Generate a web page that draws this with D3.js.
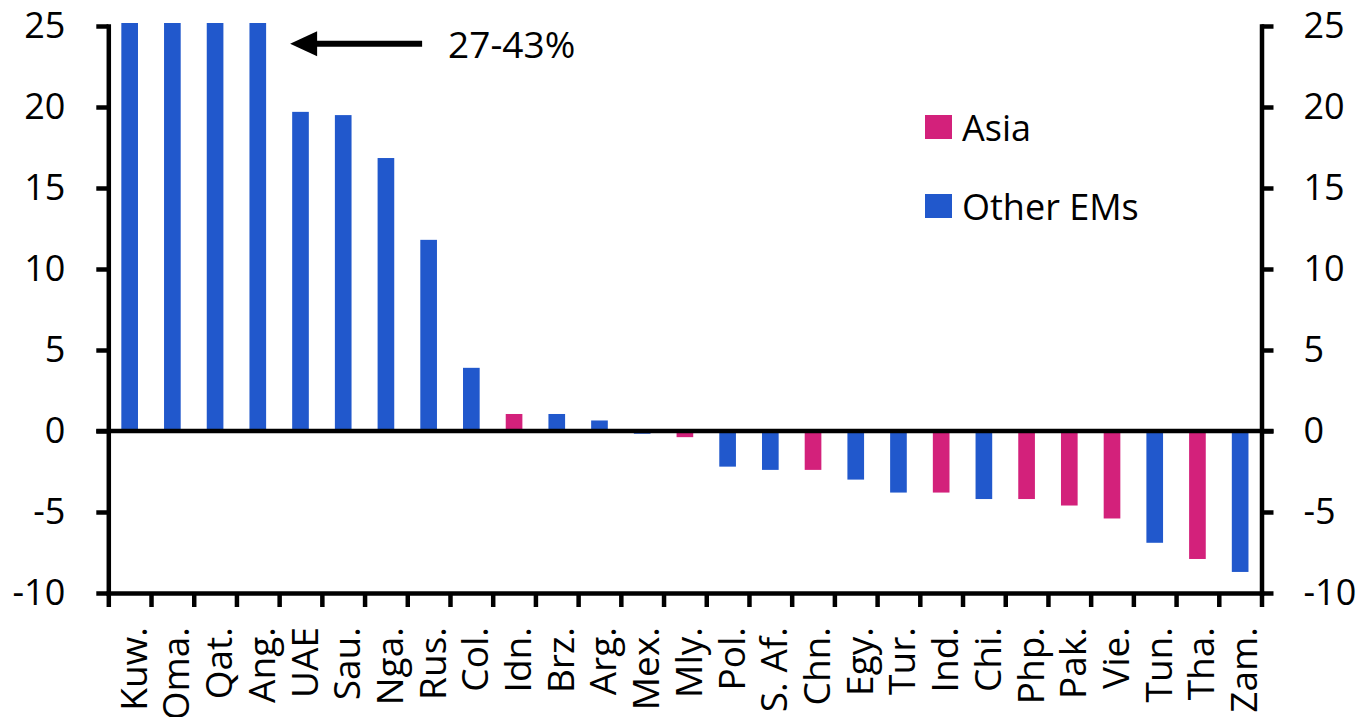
<!DOCTYPE html>
<html>
<head>
  <meta charset="utf-8">
  <title>EM bars</title>
  <script src="https://cdnjs.cloudflare.com/ajax/libs/d3/7.8.5/d3.min.js"></script>
  <style>
    body { margin: 0; background: #fff; }
    text { font-family: "Open Sans", sans-serif; fill: #000; }
    .axis path, .axis line { stroke: #000; stroke-width: 4.5px; }
    .axis path { stroke-linecap: square; }
  </style>
</head>
<body>
  <div id="chart"></div>
  <script>
    // data (values above 25 are capped, see the 27-43% note)
    var categories = ["Kuw.", "Oma.", "Qat.", "Ang.", "UAE", "Sau.", "Nga.", "Rus.", "Col.", "Idn.", "Brz.", "Arg.", "Mex.", "Mly.",
      "Pol.", "S. Af.", "Chn.", "Egy.", "Tur.", "Ind.", "Chi.", "Php.", "Pak.", "Vie.", "Tun.", "Tha.", "Zam."];
    var values = [25, 25, 25, 25, 19.7, 19.5, 16.85, 11.8, 3.9, 1.05, 1.05, 0.65, -0.17, -0.38,
      -2.2, -2.4, -2.4, -3.0, -3.8, -3.8, -4.2, -4.2, -4.6, -5.4, -6.9, -7.9, -8.7];
    var asia = ["Idn.", "Mly.", "Chn.", "Ind.", "Php.", "Pak.", "Vie.", "Tha."];
    var seriesNames = ["Asia", "Other EMs"];
    var yTicks = [-10, -5, 0, 5, 10, 15, 20, 25];
    var note = "27-43%";

    var width = 1362, height = 717,
      plotLeft = 108.3, plotRight = 1261.5, plotTop = 26, plotBottom = 593;

    var color = d3.scaleOrdinal().domain(seriesNames).range(["#d3217b", "#2158cc"]);

    var x = d3.scaleBand().domain(categories).range([plotLeft, plotRight])
      .paddingInner(0.61).paddingOuter(0.305);
    var xIdx = d3.scaleLinear().domain([0, categories.length]).range([plotLeft, plotRight]);
    var y = d3.scaleLinear().domain([-10, 25]).range([plotBottom, plotTop]);

    var svg = d3.select("#chart").append("svg")
      .attr("width", width).attr("height", height);

    // bars
    svg.append("g").selectAll("rect")
      .data(categories)
      .enter().append("rect")
      .attr("x", (d) => x(d))
      .attr("width", x.bandwidth())
      .attr("y", (d, i) => y(Math.max(0, values[i])) - (values[i] >= 25 ? 3 : 0))
      .attr("height", (d, i) => Math.abs(y(values[i]) - y(0)) + (values[i] >= 25 ? 3 : 0))
      .attr("fill", (d) => color(asia.indexOf(d) >= 0 ? "Asia" : "Other EMs"));

    // left / right axes (plain hyphen for negatives)
    var fmt = (d) => String(d);
    svg.append("g").attr("class", "axis")
      .attr("transform", "translate(" + plotLeft + ",0)")
      .call(d3.axisLeft(y).tickValues(yTicks).tickFormat(fmt).tickSize(12).tickSizeOuter(0).tickPadding(31));
    svg.append("g").attr("class", "axis")
      .attr("transform", "translate(" + plotRight + ",0)")
      .call(d3.axisRight(y).tickValues(yTicks).tickFormat(fmt).tickSize(12).tickSizeOuter(0).tickPadding(30));
    svg.selectAll(".axis text").style("font-size", "36px").attr("font-family", null);

    // bottom axis with ticks between bars
    svg.append("g").attr("class", "axis")
      .attr("transform", "translate(0," + plotBottom + ")")
      .call(d3.axisBottom(xIdx).tickValues(d3.range(categories.length + 1))
        .tickFormat("").tickSize(14).tickSizeOuter(0));

    // zero line
    svg.append("line")
      .attr("x1", plotLeft - 12).attr("x2", plotRight + 12)
      .attr("y1", y(0)).attr("y2", y(0))
      .attr("stroke", "#000").attr("stroke-width", 4.5);

    // category labels
    svg.append("g").selectAll("text")
      .data(categories)
      .enter().append("text")
      .attr("transform", (d) => "translate(" + (x(d) + x.bandwidth() / 2 + 17) + "," + (plotBottom + 34) + ") rotate(-90)")
      .attr("text-anchor", "end")
      .style("font-size", "37px")
      .text((d) => d);

    // legend
    var lg = svg.append("g").attr("transform", "translate(925,115)");
    seriesNames.forEach(function (s, i) {
      lg.append("rect").attr("x", 0).attr("y", i * 79)
        .attr("width", 27).attr("height", 24).attr("fill", color(s));
      lg.append("text").attr("x", 37).attr("y", i * 79 + 26)
        .style("font-size", "36px").text(s);
    });

    // annotation arrow for capped bars
    var ay = y(23.9), ax = x("Ang.") + x.bandwidth() + 24;
    svg.append("line")
      .attr("x1", ax + 20).attr("x2", ax + 132)
      .attr("y1", ay).attr("y2", ay)
      .attr("stroke", "#000").attr("stroke-width", 6);
    svg.append("path")
      .attr("d", "M" + ax + "," + ay + "L" + (ax + 27) + "," + (ay - 12.5) + "L" + (ax + 27) + "," + (ay + 12.5) + "Z")
      .attr("fill", "#000");
    svg.append("text")
      .attr("x", ax + 158).attr("y", ay + 14)
      .style("font-size", "37px")
      .text(note);
  </script>
</body>
</html>
